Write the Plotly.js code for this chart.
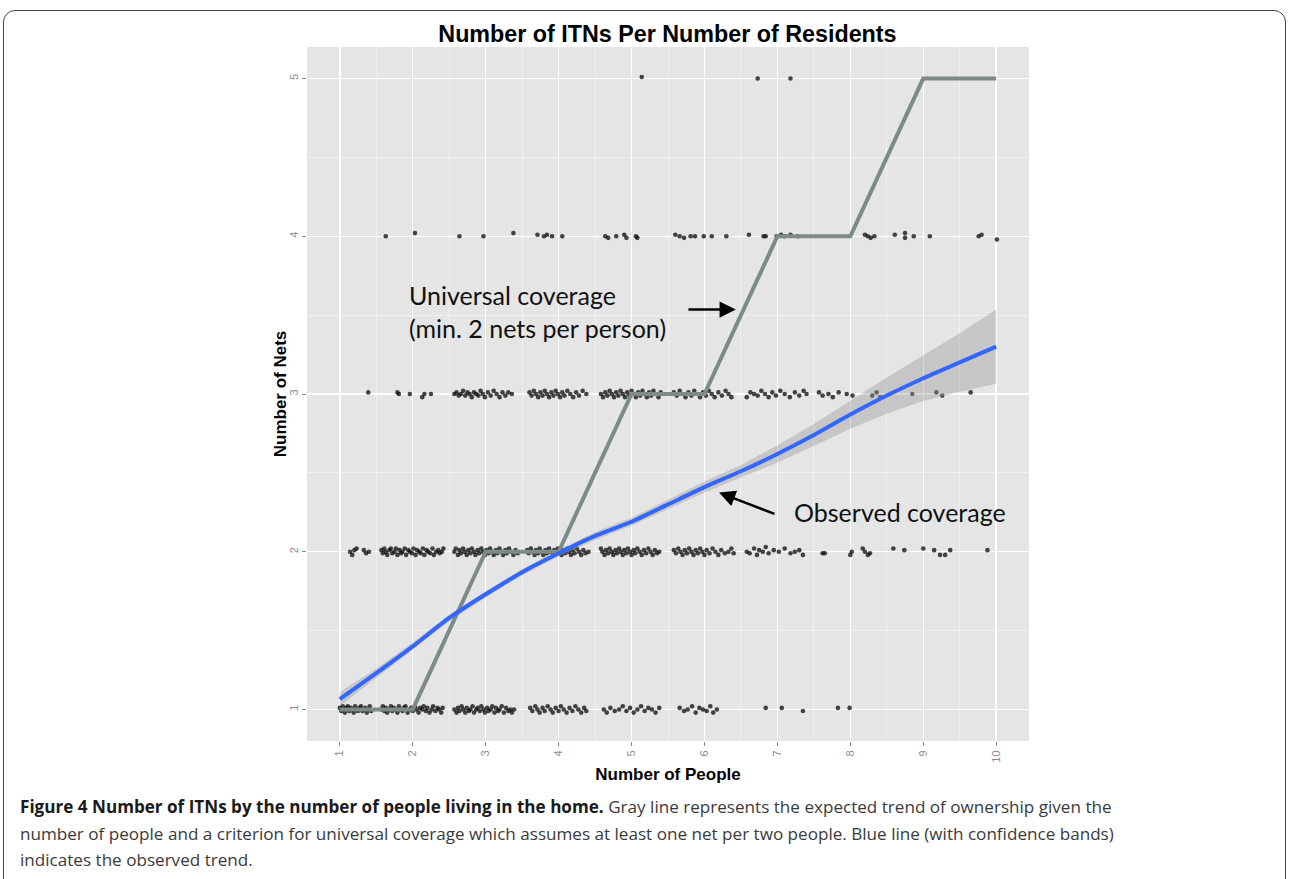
<!DOCTYPE html>
<html>
<head>
<meta charset="utf-8">
<script src="https://cdn.plot.ly/plotly-3.0.1.min.js"></script>
<style>
  html, body { margin:0; padding:0; background:#fff; width:1292px; height:879px; overflow:hidden; }
  #frame { position:absolute; left:3px; top:10px; width:1283px; height:900px; border:1.5px solid #444; border-radius:12px; box-sizing:border-box; }
  #plot { position:absolute; left:0; top:0; width:1292px; height:879px; }
  #caption { position:absolute; left:20px; top:794px; width:1265px; font-family:"Open Sans", Roboto, sans-serif; font-size:17.1px; line-height:26.5px; color:#3a3a3a; white-space:nowrap; }
  #caption b { color:#1a1a1a; }
</style>
</head>
<body>
<div id="frame"></div>
<div id="plot"></div>
<div id="caption"><b>Figure 4 Number of ITNs by the number of people living in the home.</b> Gray line represents the expected trend of ownership given the<br>number of people and a criterion for universal coverage which assumes at least one net per two people. Blue line (with confidence bands)<br>indicates the observed trend.</div>
<script>
// ---- data ----
const people = [1,2,3,4,5,6,7,8,9,10];
const universalNets = [1,1,2,2,3,3,4,4,5,5];
const netTicks = [1,2,3,4,5];

const fitX = [1,1.5,2,2.5,3,3.5,4,4.5,5,5.5,6,6.5,7,7.5,8,8.5,9,9.5,10];
const fitY = [1.065,1.23,1.40,1.58,1.73,1.87,1.99,2.10,2.19,2.30,2.41,2.51,2.62,2.74,2.87,2.99,3.10,3.20,3.30];
const fitUpper = [1.11,1.26,1.425,1.60,1.75,1.89,2.01,2.125,2.215,2.33,2.445,2.55,2.675,2.81,2.96,3.105,3.245,3.385,3.535];
const fitLower = [1.02,1.20,1.375,1.56,1.71,1.85,1.97,2.075,2.165,2.27,2.375,2.47,2.565,2.67,2.78,2.875,2.955,3.015,3.065];

// jittered observations [people, nets]
const obsNets1 = [
[1.00,1.01],[1.02,0.99],[1.04,1.02],[1.05,1.00],[1.07,0.98],[1.09,1.01],[1.11,1.02],[1.13,0.99],[1.15,1.01],[1.17,1.00],[1.19,0.98],[1.21,1.02],[1.23,1.00],[1.25,0.99],[1.27,1.01],[1.29,1.02],[1.31,0.99],[1.33,1.00],[1.35,1.01],[1.37,0.98],[1.39,1.00],[1.41,1.02],[1.43,0.99],
[1.57,1.00],[1.59,1.02],[1.61,0.99],[1.63,1.01],[1.65,0.98],[1.67,1.00],[1.70,1.02],[1.72,0.99],[1.74,1.01],[1.76,1.00],[1.79,0.98],[1.81,1.02],[1.83,1.00],[1.86,0.99],[1.88,1.01],[1.90,1.02],[1.93,0.98],[1.95,1.00],[1.98,1.01],[2.00,0.99],[2.03,1.02],[2.05,1.00],[2.08,0.98],[2.10,1.01],[2.13,1.00],[2.15,1.02],[2.18,0.99],[2.20,1.01],[2.23,0.98],[2.26,1.00],[2.28,1.02],[2.31,0.99],[2.34,1.01],[2.36,1.00],[2.39,0.98],[2.41,1.01],
[2.57,1.00],[2.60,0.98],[2.62,1.01],[2.64,0.99],[2.67,1.02],[2.69,1.00],[2.72,0.98],[2.74,1.01],[2.77,0.99],[2.79,1.00],[2.82,1.02],[2.84,0.98],[2.87,1.00],[2.89,1.01],[2.92,0.99],[2.94,1.02],[2.97,1.00],[2.99,0.98],[3.02,1.01],[3.04,0.99],[3.07,1.00],[3.09,1.02],[3.12,0.98],[3.14,1.01],[3.17,0.99],[3.19,1.00],[3.22,1.02],[3.25,0.98],[3.28,1.01],[3.31,0.99],[3.34,1.00],[3.36,0.98],[3.39,1.00],
[3.61,1.01],[3.64,0.99],[3.68,1.02],[3.71,1.00],[3.74,0.98],[3.78,1.01],[3.81,0.99],[3.85,1.02],[3.89,1.00],[3.92,0.98],[3.96,1.01],[4.00,0.99],[4.03,1.02],[4.07,1.00],[4.11,0.98],[4.15,1.01],[4.19,0.99],[4.23,1.02],[4.27,1.00],[4.31,0.98],[4.35,1.01],[4.38,0.99],
[4.62,1.00],[4.66,0.98],[4.71,1.01],[4.77,0.99],[4.83,1.00],[4.88,1.02],[4.93,0.99],[4.98,1.01],[5.03,0.98],[5.08,1.00],[5.13,1.02],[5.18,0.99],[5.23,1.01],[5.28,1.00],[5.33,0.98],[5.38,1.01],
[5.66,1.01],[5.72,0.99],[5.77,1.00],[5.83,1.02],[5.88,0.98],[5.93,1.01],[5.98,1.00],[6.03,0.99],[6.08,1.02],[6.12,0.98],[6.17,1.00],
[6.84,1.01],[7.06,1.01],[7.35,0.99],[7.83,1.01],[7.99,1.01]
];
const obsNets2 = [
[1.14,2.00],[1.17,1.98],[1.20,2.01],[1.23,2.02],[1.33,2.01],[1.36,1.99],[1.40,2.00],
[1.57,2.01],[1.59,1.99],[1.61,2.02],[1.63,2.00],[1.65,1.98],[1.68,2.01],[1.70,2.02],[1.72,1.99],[1.75,2.00],[1.77,2.02],[1.79,1.98],[1.82,2.01],[1.84,1.99],[1.86,2.00],[1.89,2.02],[1.91,1.98],[1.94,2.01],[1.96,2.00],[1.99,1.99],[2.01,2.02],[2.04,1.98],[2.06,2.01],[2.09,2.00],[2.11,1.99],[2.14,2.02],[2.16,1.98],[2.19,2.01],[2.21,2.00],[2.24,1.99],[2.27,2.02],[2.29,1.98],[2.32,2.00],[2.35,2.01],[2.37,1.99],[2.40,2.00],[2.42,2.02],
[2.57,2.00],[2.59,2.02],[2.62,1.98],[2.64,2.01],[2.66,1.99],[2.69,2.02],[2.71,2.00],[2.74,1.98],[2.76,2.01],[2.79,1.99],[2.81,2.02],[2.84,2.00],[2.86,1.98],[2.89,2.01],[2.91,1.99],[2.94,2.02],[2.96,2.00],[2.99,1.98],[3.01,2.01],[3.04,1.99],[3.06,2.02],[3.09,2.00],[3.11,1.98],[3.14,2.01],[3.16,1.99],[3.19,2.02],[3.21,2.00],[3.24,1.98],[3.27,2.01],[3.29,1.99],[3.32,2.02],[3.35,2.00],[3.38,1.98],[3.41,2.01],[3.44,1.99],
[3.57,2.01],[3.59,1.99],[3.62,2.02],[3.64,2.00],[3.67,1.98],[3.69,2.01],[3.72,1.99],[3.74,2.02],[3.77,2.00],[3.79,1.98],[3.82,2.01],[3.84,1.99],[3.87,2.02],[3.89,2.00],[3.92,1.98],[3.94,2.01],[3.97,1.99],[3.99,2.02],[4.02,2.00],[4.04,1.98],[4.07,2.01],[4.09,1.99],[4.12,2.02],[4.14,2.00],[4.17,1.98],[4.19,2.01],[4.22,1.99],[4.25,2.02],[4.28,2.00],[4.31,1.98],[4.34,2.01],[4.37,1.99],[4.41,2.00],
[4.58,2.02],[4.60,2.00],[4.63,1.98],[4.65,2.01],[4.68,1.99],[4.70,2.02],[4.73,2.00],[4.75,1.98],[4.78,2.01],[4.80,1.99],[4.83,2.02],[4.85,2.00],[4.88,1.98],[4.90,2.01],[4.93,1.99],[4.95,2.02],[4.98,2.00],[5.00,1.98],[5.03,2.01],[5.05,1.99],[5.08,2.02],[5.11,2.00],[5.14,1.98],[5.17,2.01],[5.20,1.99],[5.23,2.02],[5.26,2.00],[5.29,1.98],[5.32,2.01],[5.35,1.99],[5.38,2.00],
[5.58,2.01],[5.61,1.99],[5.64,2.02],[5.67,2.00],[5.70,1.98],[5.73,2.01],[5.76,1.99],[5.79,2.02],[5.82,2.00],[5.85,1.98],[5.88,2.01],[5.91,1.99],[5.94,2.02],[5.97,2.00],[6.00,1.98],[6.03,2.01],[6.07,1.99],[6.11,2.02],[6.15,2.00],[6.19,1.98],[6.23,2.01],[6.28,1.99],[6.33,2.00],[6.37,2.02],[6.40,1.99],
[6.58,2.00],[6.62,1.99],[6.68,2.02],[6.72,1.98],[6.75,2.01],[6.80,2.00],[6.84,2.03],[6.88,1.99],[6.95,2.01],[7.02,2.00],[7.10,2.02],[7.18,1.99],[7.24,2.00],[7.30,2.01],[7.35,1.98],
[7.62,1.99],[7.65,1.99],[8.00,1.98],[8.02,2.00],[8.17,2.02],[8.20,2.00],[8.24,1.98],[8.27,1.99],[8.59,2.02],[8.74,2.01],[9.00,2.02],[9.15,2.01],[9.23,1.98],[9.30,1.98],[9.37,2.01],[9.88,2.01]
];
const obsNets3 = [
[1.39,3.01],[1.79,3.01],[1.81,3.00],[1.96,3.00],[2.13,2.98],[2.16,3.00],[2.25,3.00],
[2.57,3.00],[2.60,3.01],[2.63,2.99],[2.66,3.00],[2.69,3.02],[2.72,2.99],[2.75,3.01],[2.78,3.00],[2.81,2.98],[2.84,3.01],[2.87,3.00],[2.90,2.99],[2.93,3.02],[2.96,3.00],[2.99,2.98],[3.03,3.01],[3.07,2.99],[3.11,3.02],[3.15,3.00],[3.19,2.98],[3.23,3.01],[3.27,2.99],[3.31,3.01],[3.36,3.00],
[3.60,3.01],[3.63,2.99],[3.66,3.02],[3.69,3.00],[3.72,2.98],[3.75,3.01],[3.78,2.99],[3.81,3.02],[3.84,3.00],[3.87,2.98],[3.90,3.01],[3.93,2.99],[3.96,3.02],[3.99,3.00],[4.02,2.98],[4.05,3.01],[4.08,2.99],[4.12,3.02],[4.16,3.00],[4.20,2.98],[4.24,3.01],[4.28,2.99],[4.33,3.02],[4.38,3.00],
[4.58,3.00],[4.61,2.98],[4.64,3.01],[4.67,2.99],[4.70,3.02],[4.73,3.00],[4.76,2.98],[4.79,3.01],[4.82,2.99],[4.85,3.02],[4.88,3.00],[4.91,2.98],[4.94,3.01],[4.97,2.99],[5.00,3.02],[5.03,3.00],[5.06,2.98],[5.09,3.01],[5.12,2.99],[5.15,3.02],[5.18,3.00],[5.21,2.98],[5.24,3.01],[5.27,2.99],[5.30,3.02],[5.33,3.00],[5.37,2.98],[5.40,3.01],
[5.58,3.01],[5.62,2.99],[5.66,3.02],[5.70,3.00],[5.74,2.98],[5.78,3.01],[5.82,2.99],[5.86,3.02],[5.90,3.00],[5.94,2.98],[5.98,3.01],[6.02,2.99],[6.06,3.02],[6.10,3.00],[6.14,2.98],[6.19,3.01],[6.24,2.99],[6.29,3.02],[6.33,3.00],[6.37,2.98],
[6.58,2.98],[6.63,3.01],[6.68,3.00],[6.73,2.99],[6.78,3.02],[6.83,3.00],[6.88,2.98],[6.93,3.01],[6.98,2.99],[7.04,3.02],[7.10,3.00],[7.17,2.98],[7.24,3.01],[7.30,2.99],[7.36,3.02],[7.40,3.00],
[7.57,3.01],[7.62,2.99],[7.70,3.00],[7.76,2.98],[7.84,3.01],[7.95,3.00],[8.03,2.99],
[8.30,2.99],[8.36,3.01],[8.41,2.98],[8.85,3.00],[9.18,3.01],[9.26,2.99],[9.65,3.01]
];
const obsNets4 = [
[1.63,4.00],[2.03,4.02],[2.64,4.00],[2.97,4.00],[3.38,4.02],[3.71,4.01],[3.80,4.00],[3.84,4.01],[3.91,4.00],[4.05,4.00],
[4.64,4.00],[4.68,3.99],[4.79,4.00],[4.90,4.01],[4.93,3.99],[5.06,4.00],[5.08,3.99],
[5.60,4.01],[5.66,4.00],[5.72,3.99],[5.81,4.00],[5.87,4.00],[5.99,4.00],[6.10,4.00],[6.30,4.00],[6.61,4.01],[6.81,4.00],[6.84,4.00],
[6.99,4.00],[7.05,4.01],[7.10,4.00],[7.18,4.01],[7.28,4.00],
[8.20,4.01],[8.24,4.00],[8.28,3.99],[8.33,4.00],[8.61,4.01],[8.75,4.02],[8.75,3.99],[8.87,4.00],[9.09,4.00],[9.76,4.00],[9.80,4.01],[10.01,3.98]
];
const obsNets5 = [[5.14,5.01],[6.73,5.00],[7.18,5.00]];

// ---- drawing ----
const allObs = obsNets1.concat(obsNets2, obsNets3, obsNets4, obsNets5);

const traces = [
  { type:'scatter', mode:'markers', x: allObs.map(p=>p[0]), y: allObs.map(p=>p[1]),
    marker:{ size:4.6, color:'rgba(10,10,10,0.75)' }, hoverinfo:'skip', showlegend:false },
  { type:'scatter', mode:'lines', x: fitX, y: fitLower, line:{ width:0, color:'rgba(0,0,0,0)' }, hoverinfo:'skip', showlegend:false },
  { type:'scatter', mode:'lines', x: fitX, y: fitUpper, fill:'tonexty', fillcolor:'rgba(153,153,153,0.4)', line:{ width:0, color:'rgba(0,0,0,0)' }, hoverinfo:'skip', showlegend:false },
  { type:'scatter', mode:'lines', x: people, y: universalNets, line:{ color:'#7d8a86', width:4 }, showlegend:false },
  { type:'scatter', mode:'lines', x: fitX, y: fitY, line:{ color:'#3366FF', width:4, shape:'spline', smoothing:0.6 }, showlegend:false }
];

const annFont = { family:'Lato, "Open Sans", sans-serif', size:25, color:'#111' };
const axisTitleFont = { family:'"Liberation Sans", Arial, sans-serif', size:17, color:'#000' };

const layout = {
  width:1292, height:879,
  margin:{ l:307, r:263, t:47, b:138 },
  paper_bgcolor:'rgba(0,0,0,0)',
  plot_bgcolor:'#E5E5E5',
  showlegend:false,
  title:{ text:'<b>Number of ITNs Per Number of Residents</b>', font:{ family:'"Liberation Sans", Arial, sans-serif', size:23.3, color:'#000' },
          x:0.5166, xanchor:'center', xref:'container', y:0.961, yanchor:'middle', yref:'container' },
  xaxis:{ range:[0.55,10.45], tickvals:people, ticktext:people.map(String), tickangle:-90,
          ticks:'outside', ticklen:4, tickcolor:'#8a8a8a', tickwidth:1,
          tickfont:{ family:'"Liberation Sans", Arial, sans-serif', size:11, color:'#8c8c8c' },
          showgrid:true, gridcolor:'#FFFFFF', gridwidth:1.4, zeroline:false, showline:false,
          minor:{ dtick:0.5, tick0:0.5, showgrid:true, gridcolor:'#F2F2F2', gridwidth:0.8 },
          title:{ text:'<b>Number of People</b>', font:axisTitleFont, standoff:6 },
          automargin:false, fixedrange:true },
  yaxis:{ range:[0.8,5.2], tickvals:netTicks, ticktext:netTicks.map(String), tickangle:-90,
          ticks:'outside', ticklen:4, tickcolor:'#8a8a8a', tickwidth:1,
          tickfont:{ family:'"Liberation Sans", Arial, sans-serif', size:11, color:'#8c8c8c' },
          showgrid:true, gridcolor:'#FFFFFF', gridwidth:1.4, zeroline:false, showline:false,
          minor:{ dtick:0.5, tick0:0.5, showgrid:true, gridcolor:'#F2F2F2', gridwidth:0.8 },
          automargin:false, fixedrange:true },
  annotations:[
    { text:'<b>Number of Nets</b>', textangle:-90, x:-0.037, y:0.5, xref:'paper', yref:'paper', xanchor:'center', yanchor:'middle', showarrow:false, font:axisTitleFont },
    { text:'Universal coverage<br>(min. 2 nets per person)', x:1.92, y:3.52, xref:'x', yref:'y', xanchor:'left', yanchor:'middle', align:'left', showarrow:false, font:annFont },
    { text:'', x:6.43, y:3.535, ax:5.76, ay:3.535, xref:'x', yref:'y', axref:'x', ayref:'y', showarrow:true, arrowhead:2, arrowsize:1.3, arrowwidth:2.5, arrowcolor:'#000' },
    { text:'Observed coverage', x:7.20, y:2.255, xref:'x', yref:'y', xanchor:'left', yanchor:'middle', showarrow:false, font:annFont },
    { text:'', x:6.20, y:2.375, ax:6.98, ay:2.236, xref:'x', yref:'y', axref:'x', ayref:'y', showarrow:true, arrowhead:2, arrowsize:1.3, arrowwidth:2.5, arrowcolor:'#000' }
  ]
};

Plotly.newPlot('plot', traces, layout, { displayModeBar:false, staticPlot:true });
</script>
</body>
</html>
